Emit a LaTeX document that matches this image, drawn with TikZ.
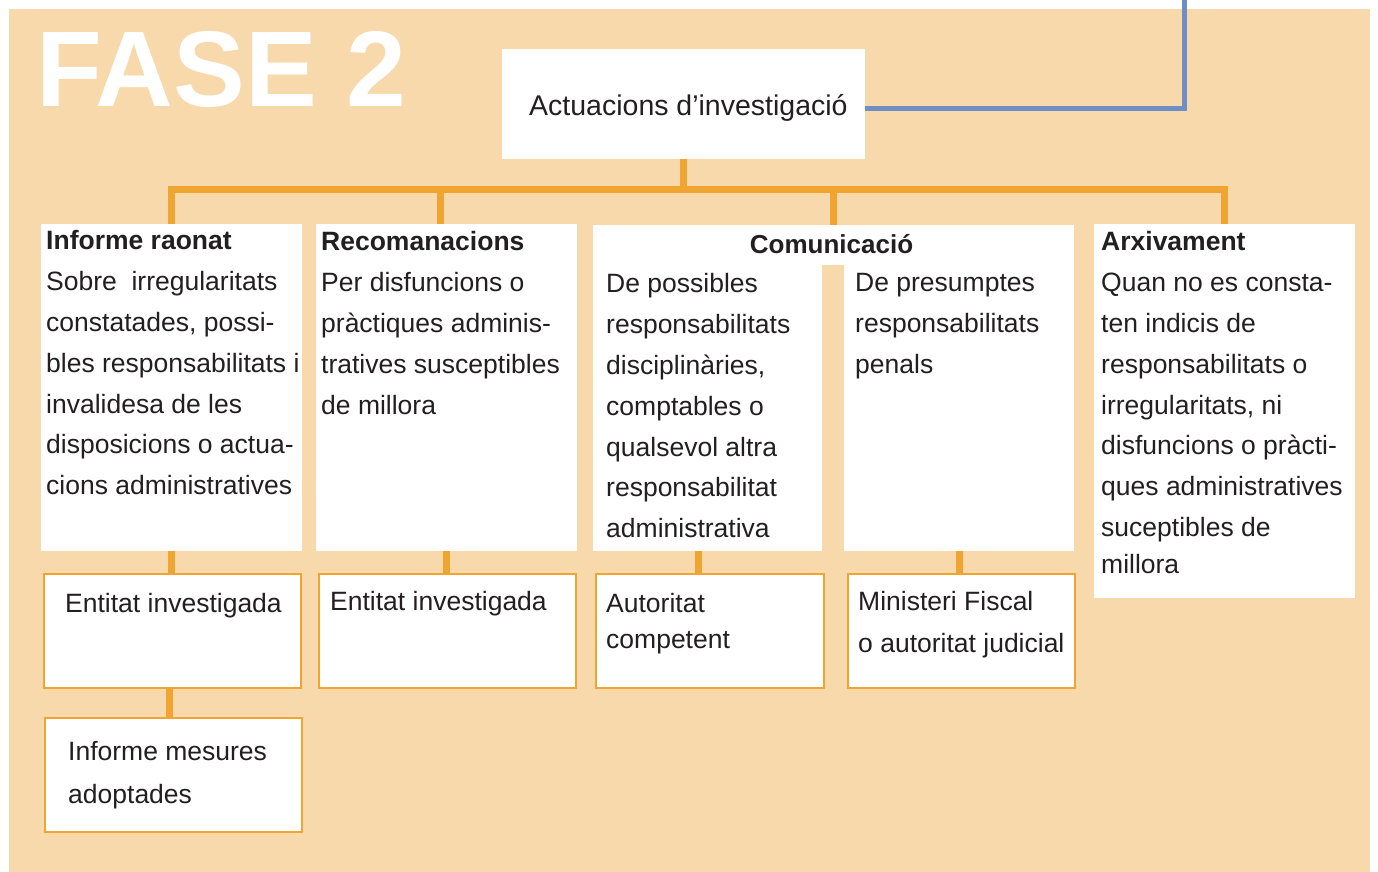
\documentclass[tikz,border=0pt]{standalone}
\usepackage{fontspec}
\setmainfont{Liberation Sans}
\usetikzlibrary{positioning}

\definecolor{fonsfase}{RGB}{248,217,172}
\definecolor{taronja}{RGB}{240,164,50}
\definecolor{blaulinia}{RGB}{110,142,196}
\definecolor{tinta}{RGB}{35,31,32}

\tikzset{
  caixa/.style={fill=white, inner sep=0pt, anchor=north west},
  desti/.style={caixa, draw=taronja, line width=2pt},
  lletra/.style={text=tinta, inner sep=0pt, anchor=north west, align=left,
    font=\fontsize{26.5}{40.8}\selectfont},
  bus/.style={draw=taronja, line width=7pt},
}

\begin{document}
\begin{tikzpicture}[x=1pt, y=-1pt]
  \useasboundingbox (0,0) rectangle (1378,872);
  \fill[fonsfase] (9,9) rectangle (1370,872);

  \node[text=white, inner sep=0pt, anchor=base west,
    font=\bfseries\fontsize{107.5}{108}\selectfont] (fase) at (36,107) {FASE 2};

  \node[caixa, minimum width=363pt, minimum height=110pt] (actuacions) at (502,49) {};
  \node[text=tinta, inner sep=0pt, anchor=base west, font=\fontsize{28.5}{34}\selectfont]
    (tactuacions) at (529,116) {Actuacions d’investigació};

  \node[caixa, minimum width=261pt, minimum height=327pt] (informe) at (41,224) {};
  \node[caixa, minimum width=261pt, minimum height=327pt] (recomanacions) at (316,224) {};
  \node[caixa, minimum width=481pt, minimum height=326pt] (comunicacio) at (593,225) {};
  \node[caixa, minimum width=261pt, minimum height=374pt] (arxivament) at (1094,224) {};
  \fill[fonsfase] (822,265) rectangle (844,551.5);

  \node[desti, minimum width=257pt, minimum height=114pt] (entitatA) at (43,573) {};
  \node[desti, minimum width=257pt, minimum height=114pt] (entitatB) at (318,573) {};
  \node[desti, minimum width=228pt, minimum height=114pt] (autoritat) at (595,573) {};
  \node[desti, minimum width=227pt, minimum height=114pt] (ministeri) at (847,573) {};
  \node[desti, minimum width=257pt, minimum height=114pt] (mesures) at (44,717) {};

  \coordinate (bus) at (0,189.5);
  \coordinate (colA) at (698.5,551);
  \coordinate (colB) at (959.5,551);
  \coordinate (dalt) at (1184,0);

  \draw[bus] (informe.north) |- (arxivament.north |- bus) -- (arxivament.north);
  \draw[bus] (actuacions.south) -- (actuacions.south |- bus);
  \draw[bus] ([xshift=-6pt]recomanacions.north) -- ([xshift=-6pt]recomanacions.north |- bus);
  \draw[bus] (comunicacio.north) -- (comunicacio.north |- bus);

  \draw[bus] (informe.south) -- (informe.south |- entitatA.north);
  \draw[bus] (recomanacions.south) -- (recomanacions.south |- entitatB.north);
  \draw[bus] (colA) -- (colA |- autoritat.north);
  \draw[bus] (colB) -- (colB |- ministeri.north);
  \draw[bus] ([xshift=-3pt]entitatA.south) -- ([xshift=-3pt]entitatA.south |- mesures.north);

  \draw[blaulinia, line width=5pt] ([yshift=-4pt]actuacions.east) -| (dalt);

  \node[lletra] (tinforme) at (46,230.5) {\textbf{Informe raonat}\\Sobre\ \ irregularitats\\
    constatades, possi-\\bles responsabilitats i\\invalidesa de les\\
    disposicions o actua-\\cions administratives};
  \node[lletra] (trecomanacions) at (321,231.5) {\textbf{Recomanacions}\\Per disfuncions o\\
    pràctiques adminis-\\tratives susceptibles\\de millora};
  \node[text=tinta, inner sep=0pt, anchor=base, font=\bfseries\fontsize{26}{30}\selectfont]
    (tcomunicacio) at (831.5,253) {Comunicació};
  \node[lletra] (tdisciplina) at (606,273.5) {De possibles\\responsabilitats\\
    disciplinàries,\\comptables o\\qualsevol altra\\responsabilitat\\administrativa};
  \node[lletra] (tpenal) at (855,273.5) {De presumptes\\responsabilitats\\penals};
  \node[lletra] (tarxivament) at (1101,231.5) {\textbf{Arxivament}\\Quan no es consta-\\
    ten indicis de\\responsabilitats o\\irregularitats, ni\\disfuncions o pràcti-\\
    ques administratives\\suceptibles de\\[-4pt]millora};

  \node[lletra] (tentitatA) at (65,593.5) {Entitat investigada};
  \node[lletra] (tentitatB) at (330,591.5) {Entitat investigada};
  \node[lletra, font=\fontsize{26.5}{36}\selectfont] (tautoritat) at (606,593.5)
    {Autoritat\\competent};
  \node[lletra, font=\fontsize{26.5}{42}\selectfont] (tministeri) at (858,591.5)
    {Ministeri Fiscal\\o autoritat judicial};
  \node[lletra, font=\fontsize{26.5}{43}\selectfont] (tmesures) at (68,741.5)
    {Informe mesures\\adoptades};
\end{tikzpicture}
\end{document}
